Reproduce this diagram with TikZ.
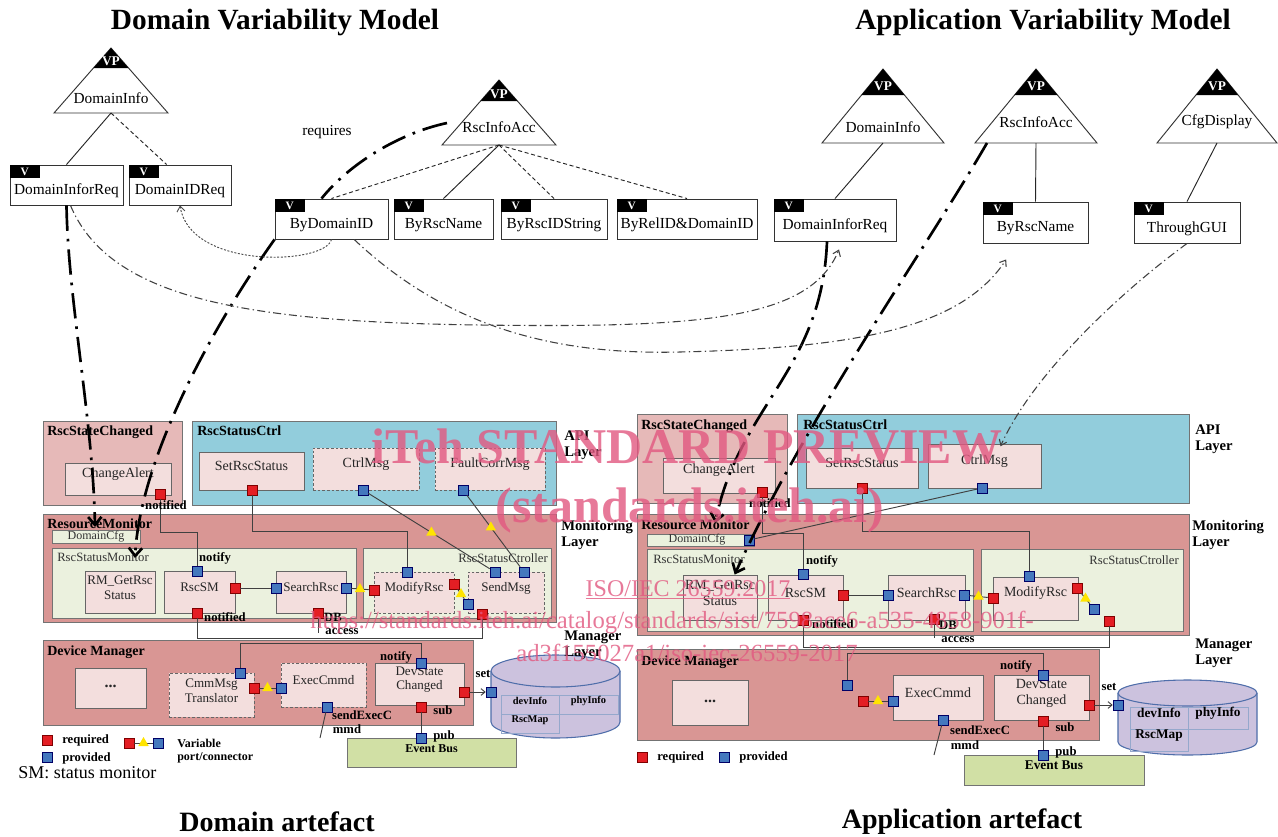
\documentclass[tikz,border=0pt]{standalone}
\usepackage{fontspec}
\setmainfont{Liberation Serif}
\usetikzlibrary{fit,shapes.geometric,arrows.meta,calc}
\definecolor{outpink}{RGB}{230,185,184}
\definecolor{inpink}{RGB}{243,222,221}
\definecolor{apiblue}{RGB}{146,205,220}
\definecolor{monred}{RGB}{217,150,148}
\definecolor{cream}{RGB}{235,241,222}
\definecolor{busgreen}{RGB}{209,224,165}
\definecolor{dblav}{RGB}{204,194,222}
\definecolor{dbline}{RGB}{79,110,170}
\definecolor{portred}{RGB}{228,30,36}
\definecolor{portblue}{RGB}{68,120,190}
\definecolor{tricol}{RGB}{255,228,0}
\definecolor{wmcol}{RGB}{226,88,128}
\tikzset{
 every node/.style={inner sep=0pt},
 title/.style={font=\bfseries\fontsize{22}{25}\selectfont},
 foot/.style={font=\bfseries\fontsize{21}{24}\selectfont},
 tlabel/.style={font=\fontsize{11.5}{13}\selectfont},
 vpl/.style={text=white, font=\bfseries\fontsize{10}{11}\selectfont},
 vframe/.style={draw=black!80, line width=0.7pt, fill=white},
 vtab/.style={fill=black, minimum width=22.5pt, minimum height=10pt, text=white, font=\bfseries\fontsize{8.5}{9}\selectfont, anchor=north west},
 tedge/.style={line width=0.7pt, black!85},
 dedge/.style={tedge, dash pattern=on 3pt off 2pt},
 obox/.style={draw=black!55, line width=0.6pt},
 ib/.style={draw=black!60, fill=inpink, line width=0.6pt, align=center, text=black!85, font=\fontsize{9.8}{11}\selectfont},
 ibd/.style={ib, dash pattern=on 2pt off 1.5pt},
 big/.style={font=\fontsize{10.5}{12}\selectfont},
 btitle/.style={font=\bfseries\fontsize{10.5}{12}\selectfont, anchor=north west},
 ntitle/.style={font=\fontsize{9.5}{11}\selectfont, anchor=north west, text=black!80},
 fsn/.style={font=\fontsize{9}{10}\selectfont, text=black!80},
 lb/.style={font=\bfseries\fontsize{9.5}{10.5}\selectfont},
 layer/.style={font=\bfseries\fontsize{11}{12}\selectfont, align=left, anchor=north west},
 port/.style={minimum size=7.5pt, line width=0.4pt},
 rp/.style={port, fill=portred, draw=red!50!black},
 bp/.style={port, fill=portblue, draw=blue!40!black},
 ytri/.style={regular polygon, regular polygon sides=3, minimum size=9pt, fill=tricol},
 wire/.style={line width=0.7pt, black!75},
 thickdd/.style={line width=2pt, black, dash pattern=on 19pt off 6pt on 2pt off 6pt},
 thindd/.style={line width=0.8pt, black!75, dash pattern=on 6pt off 2.5pt on 1pt off 2.5pt},
 dotc/.style={line width=0.7pt, black!70, dash pattern=on 1.5pt off 1.2pt},
 bigtip/.style={-{Straight Barb[length=6pt,width=10pt]}},
 smalltip/.style={-{Straight Barb[length=4pt,width=6pt]}},
 wmk/.style={text=wmcol, text opacity=0.8},
 cell/.style={draw=dbline!60, line width=0.5pt, font=\bfseries\fontsize{7.8}{8}\selectfont},
 acell/.style={cell, font=\bfseries\fontsize{10}{11}\selectfont},
}
\newcommand{\vptri}[8]{%
 \pgfmathsetmacro{\vpcw}{#5*(#6-#3)/(#4-#3)}%
 \draw[vframe] (#2,#3) -- ({#2+#5},#4) -- ({#2-#5},#4) -- cycle;
 \fill (#2,#3) -- ({#2+\vpcw},#6) -- ({#2-\vpcw},#6) -- cycle;
 \node[vpl] (#1-vp) at (#2,{(#3+2*#6)/3}) {VP};
 \node[tlabel] (#1) at (#2,#8) {#7};
 \coordinate (#1-b) at (#2,#4);
}
\newcommand{\vbx}[6]{%
 \node[vframe, fit={(#2,#3) (#4,#5)}] (#1) {};
 \node[vtab] (#1-v) at (#1.north west) {V};
 \node[tlabel] (#1-t) at ($(#1.center)+(0,6)$) {#6};
}
\begin{document}
\begin{tikzpicture}[x=0.75pt,y=-0.75pt]
\useasboundingbox (0,0) rectangle (1278,836);
\fill[white] (0,0) rectangle (1278,836);

% ---------- titles ----------
\node[title] (t1) at (275,22) {Domain Variability Model};
\node[title] (t2) at (1043,22) {Application Variability Model};
\node[foot] (f1) at (277,822) {Domain artefact};
\node[foot] (f2) at (962,822) {Application artefact};

% ---------- variability models ----------
\vptri{dInfo}{111}{48}{113}{57}{68}{DomainInfo}{98}
\vptri{dAcc}{499}{80}{145}{57}{101}{RscInfoAcc}{127}
\vptri{aInfo}{883}{69}{143}{61}{95}{DomainInfo}{127}
\vptri{aAcc}{1036}{69}{143}{61}{95}{RscInfoAcc}{122}
\vptri{aCfgD}{1217}{69}{143}{60}{95}{CfgDisplay}{122}

\vbx{dIReq}{10}{165}{123}{205}{DomainInforReq}
\vbx{dIDReq}{129}{165}{231}{205}{DomainIDReq}
\vbx{dBDI}{275}{199}{388}{239}{ByDomainID}
\vbx{dBRN}{394}{199}{493}{239}{ByRscName}
\vbx{dBRS}{501}{199}{607}{239}{ByRscIDString}
\vbx{dBRD}{617}{199}{757}{239}{ByRelID\&DomainID}
\vbx{aReq}{774}{199}{896}{241}{DomainInforReq}
\vbx{aRsc}{983}{202}{1088}{243}{ByRscName}
\vbx{aGUI}{1134}{202}{1240}{243}{ThroughGUI}

\draw[tedge] (dInfo-b) -- (dIReq.north);
\draw[dedge] (dInfo-b) -- ([xshift=-10pt]dIDReq.north);
\draw[dedge] (dAcc-b) -- (dBDI.north);
\draw[tedge] (dAcc-b) -- (dBRN.north);
\draw[dedge] (dAcc-b) -- (dBRS.north);
\draw[dedge] (dAcc-b) -- (dBRD.north);
\draw[tedge] (aInfo-b) -- (aReq.north);
\draw[tedge] (aAcc-b) -- (aRsc.north);
\draw[tedge] (aCfgD-b) -- (aGUI.north);
\node[tlabel] (req) at (327,132) {requires};

% ---------- domain artefact ----------
\node[obox, fill=outpink, fit={(43,421) (182,505)}] (dRSC) {};
\node[btitle] (dRSC-t) at (47,426) {RscStateChanged};
\node[ib, big, fit={(65,463) (171,495)}] (dCA) {ChangeAlert};
\node[obox, fill=apiblue, fit={(192,421) (556,505)}] (dAPI) {};
\node[btitle] (dAPI-t) at (197,426) {RscStatusCtrl};
\node[ib, big, fit={(199,452) (304,490)}] (dSet) {SetRscStatus};
\node[ibd, big, fit={(313,448) (419,490)}] (dCtrl) {CtrlMsg};
\node[ibd, big, fit={(435,448) (545,490)}] (dFault) {FaultCorrMsg};

\node[obox, fill=monred, fit={(43,514) (556,622)}] (dRM) {};
\node[btitle] (dRM-t) at (47,519) {ResourceMonitor};
\node[obox, fill=cream, fit={(52,530) (140,543)}] (dCfg) {};
\node[fsn] (dCfg-t) at (dCfg) {DomainCfg};
\node[obox, fill=cream, fit={(52,548) (356,618)}] (dRSM) {};
\node[ntitle] (dRSM-t) at (57,553) {RscStatusMonitor};
\node[ib, fit={(85,571) (155,613)}] (dGet) {RM\_GetRsc\\Status};
\node[ib, fit={(164,571) (235,613)}] (dSM) {RscSM};
\node[ib, fit={(276,571) (346,613)}] (dSearch) {SearchRsc};
\node[obox, fill=cream, fit={(363,548) (551,618)}] (dRSCt) {};
\node[ntitle, anchor=north east] (dRSCt-t) at (548,553) {RscStatusCtroller};
\node[ibd, fit={(374,572) (454,613)}] (dMod) {ModifyRsc};
\node[ibd, fit={(468,572) (544,613)}] (dSend) {SendMsg};

\node[obox, fill=monred, fit={(43,640) (473,725)}] (dDM) {};
\node[btitle] (dDM-t) at (47,646) {Device Manager};
\node[ib, fit={(75,668) (146,708)}, font=\bfseries\fontsize{12}{13}\selectfont] (dDots) {...};
\node[ibd, fit={(169,673) (254,717)}] (dCmm) {CmmMsg\\Translator};
\node[ibd, fit={(281,663) (366,707)}] (dExec) {ExecCmmd};
\node[ib, fit={(375,663) (464,705)}] (dDev) {DevState\\Changed};
\node[obox, fill=busgreen, fit={(347,738) (516,767)}, font=\bfseries\fontsize{9}{10}\selectfont] (dBus) {Event Bus};

% database (domain)
\fill[dblav] (491,671) -- (491,722) arc[start angle=180,end angle=360,x radius=48.375pt,y radius=12pt] -- (620,671) -- cycle;
\draw[dbline, line width=0.8pt] (491,671) -- (491,722) arc[start angle=180,end angle=360,x radius=48.375pt,y radius=12pt] -- (620,671);
\draw[dbline, line width=0.8pt, fill=dblav] (555.5,671) ellipse [x radius=48.375pt, y radius=12pt];
\node[cell, fit={(501,695) (559,714)}] (dc1) {devInfo};
\node[cell, fit={(559,695) (618,714)}] (dc2) {phyInfo};
\node[cell, fit={(501,714) (559,733)}] (dc3) {RscMap};

% ports (domain)
\node[rp] (pCA) at (160,494) {};
\node[rp] (pSet) at (252,490) {};
\node[bp] (pCtrl) at (363,490) {};
\node[bp] (pFault) at (463,490) {};
\node[bp] (pSMt) at (197,571) {};
\node[rp] (pSMr) at (235,588) {};
\node[bp] (pSRl) at (276,588) {};
\node[bp] (pSRr) at (346,588) {};
\node[rp] (pSMb) at (197,613) {};
\node[rp] (pSRb) at (318,613) {};
\node[rp] (pModl) at (374,590) {};
\node[bp] (pModt) at (407,572) {};
\node[rp] (pModr) at (454,584) {};
\node[bp] (pSendl) at (468,604) {};
\node[bp] (pSendt1) at (495,572) {};
\node[bp] (pSendt2) at (524,572) {};
\node[rp] (pSendb) at (482,614) {};
\node[bp] (pCmmt) at (240,673) {};
\node[rp] (pCmmr) at (254,688) {};
\node[bp] (pExecl) at (281,688) {};
\node[bp] (pExecb) at (327,707) {};
\node[bp] (pDevt) at (421,663) {};
\node[rp] (pDevb) at (421,707) {};
\node[rp] (pDevr) at (464,692) {};
\node[bp] (pDB) at (491,692) {};
\node[bp] (pBus) at (421,738) {};
\coordinate (dbA) at (318,633);
\coordinate (seA) at (320,738);

% wires (domain)
\draw[wire] (pCA) -- ++(0,38) -| (pSMt);
\draw[wire] (pSet) -- ++(0,41) -| (pModt);
\draw[wire] (pCtrl) -- node[ytri, pos=0.52] (y1) {} (pSendt1);
\draw[wire] (pFault) -- node[ytri, pos=0.45] (y2) {} (pSendt2);
\draw[wire] (pSMr) -- (pSRl);
\draw[wire] (pSRr) -- node[ytri] (y3) {} (pModl);
\draw[wire] (pModr) -- node[ytri] (y4) {} (pSendl);
\draw[wire] (pSMb) -- ++(0,25) -| (pSendb);
\draw[wire] (pSRb) -- (dbA);
\draw[wire] (pCmmt) -- ++(0,-30) -| (pDevt);
\draw[wire] (pCmmr) -- node[ytri] (y5) {} (pExecl);
\draw[wire] (pExecb) -- (seA);
\draw[wire, -{Straight Barb[length=3pt,width=5pt]}] (pDevr) -- (pDB);
\draw[wire] (pDevb) -- (pBus);

% labels (domain)
\node[lb] (l1) at (166,505) {notified};
\node[lb] (l2) at (215,558) {notify};
\node[lb] (l3) at (225,617) {notified};
\node[lb] (l4) at (333,617) {DB};
\node[lb] (l5) at (342,632) {access};
\node[lb] (l6) at (396,657) {notify};
\node[lb] (l7) at (483,674) {set};
\node[lb] (l8) at (443,710) {sub};
\node[lb] (l9) at (444,736) {pub};
\node[lb] (l10) at (362,715) {sendExecC};
\node[lb] (l11) at (347,729) {mmd};
\node[layer] (dL1) at (564,431) {API\\Layer};
\node[layer] (dL2) at (561,520) {Monitoring\\Layer};
\node[layer] (dL3) at (564,631) {Manager\\Layer};

% legend (domain)
\node[rp] (lgR) at (47,740) {};
\node[lb, anchor=west] (lgRt) at (62,740) {required};
\node[bp] (lgB) at (47,757) {};
\node[lb, anchor=west] (lgBt) at (62,758) {provided};
\node[rp] (lgV1) at (129,743) {};
\node[bp] (lgV2) at (158,743) {};
\draw[wire] (lgV1) -- node[ytri] (y6) {} (lgV2);
\node[lb, anchor=west, align=left, font=\bfseries\fontsize{9}{10}\selectfont] (lgVt) at (177,751) {Variable\\port/connector};
\node[anchor=west, font=\fontsize{13.5}{15}\selectfont] (lgSM) at (18,773) {SM: status monitor};

% ---------- application artefact ----------
\node[obox, fill=outpink, fit={(637,414) (787,503)}] (aRSC) {};
\node[btitle] (aRSC-t) at (641,420) {RscStateChanged};
\node[ib, big, fit={(663,458) (775,493)}] (aCA) {ChangeAlert};
\node[obox, fill=apiblue, fit={(797,414) (1189,503)}] (aAPI) {};
\node[btitle] (aAPI-t) at (803,420) {RscStatusCtrl};
\node[ib, big, fit={(806,448) (918,488)}] (aSet) {SetRscStatus};
\node[ib, big, fit={(928,444) (1041,488)}] (aCtrl) {CtrlMsg};

\node[obox, fill=monred, fit={(637,514) (1189,635)}] (aRM) {};
\node[btitle] (aRM-t) at (641,520) {Resource Monitor};
\node[obox, fill=cream, fit={(647,534) (754,546)}] (aDCfg) {};
\node[fsn] (aDCfg-t) at (697,540) {DomainCfg};
\node[obox, fill=cream, fit={(647,549) (973,631)}] (aRSM) {};
\node[ntitle] (aRSM-t) at (653,555) {RscStatusMonitor};
\node[ib, big, fit={(683,575) (757,620)}] (aGet) {RM\_GetRsc\\Status};
\node[ib, big, fit={(768,575) (843,620)}] (aSM) {RscSM};
\node[ib, big, fit={(888,575) (965,620)}] (aSearch) {SearchRsc};
\node[obox, fill=cream, fit={(981,549) (1183,631)}] (aRSCt) {};
\node[ntitle, anchor=north east] (aRSCt-t) at (1179,555) {RscStatusCtroller};
\node[ib, big, fit={(993,577) (1078,620)}] (aMod) {ModifyRsc};

\node[obox, fill=monred, fit={(637,649) (1099,740)}] (aDM) {};
\node[btitle] (aDM-t) at (641,656) {Device Manager};
\node[ib, fit={(672,680) (748,725)}, font=\bfseries\fontsize{12}{13}\selectfont] (aDots) {...};
\node[ib, big, fit={(893,675) (983,720)}] (aExec) {ExecCmmd};
\node[ib, big, fit={(994,675) (1089,720)}] (aDev) {DevState\\Changed};
\node[obox, fill=busgreen, fit={(964,755) (1144,785)}, font=\bfseries\fontsize{10}{11}\selectfont] (aBus) {Event Bus};

% database (application)
\fill[dblav] (1118,693) -- (1118,742) arc[start angle=180,end angle=360,x radius=52.125pt,y radius=9.75pt] -- (1257,693) -- cycle;
\draw[dbline, line width=0.8pt] (1118,693) -- (1118,742) arc[start angle=180,end angle=360,x radius=52.125pt,y radius=9.75pt] -- (1257,693);
\draw[dbline, line width=0.8pt, fill=dblav] (1187.5,693) ellipse [x radius=52.125pt, y radius=9.75pt];
\node[acell, fit={(1130,707) (1188,729)}] (ac1) {devInfo};
\node[acell, fit={(1188,707) (1248,729)}] (ac2) {phyInfo};
\node[acell, fit={(1130,729) (1188,751)}] (ac3) {RscMap};

% ports (application)
\node[rp] (paCA) at (762,492) {};
\node[rp] (paSet) at (862,488) {};
\node[bp] (paCtrl) at (982,488) {};
\node[bp] (paCfg) at (749,540) {};
\node[bp] (paSMt) at (803,574) {};
\node[rp] (paSMr) at (843,595) {};
\node[bp] (paSRl) at (888,595) {};
\node[bp] (paSRr) at (964,595) {};
\node[rp] (paSMb) at (803,620) {};
\node[rp] (paSRb) at (934,619) {};
\node[rp] (paModl) at (993,598) {};
\node[bp] (paModt) at (1029,576) {};
\node[rp] (paModr) at (1077,588) {};
\node[bp] (paX) at (1094,609) {};
\node[rp] (paY) at (1109,621) {};
\node[bp] (paLone) at (847,685) {};
\node[rp] (paRed) at (863,701) {};
\node[bp] (paExecl) at (893,701) {};
\node[bp] (paExecb) at (943,720) {};
\node[bp] (paDevt) at (1043,675) {};
\node[rp] (paDevb) at (1043,721) {};
\node[rp] (paDevr) at (1089,705) {};
\node[bp] (paDB) at (1118,705) {};
\node[bp] (paBus) at (1043,755) {};
\coordinate (adbA) at (934,638);
\coordinate (aseA) at (934,755);

% wires (application)
\draw[wire] (paCA) -- ++(0,41) -| (paSMt);
\draw[wire] (paSet) -- ++(0,43) -| (paModt);
\draw[wire] (paCtrl) -- (paCfg);
\draw[wire] (paSMr) -- (paSRl);
\draw[wire] (paSRr) -- node[ytri] (y7) {} (paModl);
\draw[wire] (paModr) -- node[ytri] (y8) {} (paX);
\draw[wire] (paSMb) -- ++(0,27) -| (paY);
\draw[wire] (paSRb) -- (adbA);
\draw[wire] (paLone) -- ++(0,-32) -| (paDevt);
\draw[wire] (paRed) -- node[ytri] (y9) {} (paExecl);
\draw[wire] (paExecb) -- (aseA);
\draw[wire, -{Straight Barb[length=3pt,width=5pt]}] (paDevr) -- (paDB);
\draw[wire] (paDevb) -- (paBus);

% labels (application)
\node[lb] (m1) at (770,503) {notified};
\node[lb] (m2) at (822,561) {notify};
\node[lb] (m3) at (833,624) {notified};
\node[lb] (m4) at (948,625) {DB};
\node[lb] (m5) at (958,640) {access};
\node[lb] (m6) at (1016,666) {notify};
\node[lb] (m7) at (1109,687) {set};
\node[lb] (m8) at (1065,727) {sub};
\node[lb] (m9) at (1066,752) {pub};
\node[lb] (m10) at (980,730) {sendExecC};
\node[lb] (m11) at (965,745) {mmd};
\node[layer] (aL1) at (1195,425) {API\\Layer};
\node[layer] (aL2) at (1192,520) {Monitoring\\Layer};
\node[layer] (aL3) at (1195,639) {Manager\\Layer};
\node[rp] (alR) at (642,757) {};
\node[lb, anchor=west] (alRt) at (657,757) {required};
\node[bp] (alB) at (724,757) {};
\node[lb, anchor=west] (alBt) at (739,757) {provided};

% ---------- traceability connectors ----------
\coordinate (dAccL) at (447,123);
\coordinate (d1e) at (95,527);
\coordinate (d2e) at (135,558);
\coordinate (aAccL) at (987,143);
\coordinate (a1e) at (715,523);
\draw[thickdd] (dAccL) .. controls (400,133) and (350,163) .. ([xshift=-7.5pt]dBDI.north);
\draw[thickdd, bigtip] (dIReq.south) .. controls (68,300) and (93,420) .. (d1e);
\draw[thickdd, bigtip] (dBDI.south west) .. controls (210,330) and (140,460) .. (d2e);
\draw[thickdd, bigtip] ([xshift=-6pt]aReq.south) .. controls (822,370) and (740,405) .. (a1e);
\draw[thickdd, bigtip] (aAccL) .. controls (925,250) and (805,420) .. ([xshift=11pt]aGet.north);
\draw[thindd, smalltip] ([xshift=3pt]dIReq.south) .. controls (110,300) and (250,322) .. (480,325) .. controls (700,328) and (810,320) .. ([xshift=3pt,yshift=-6pt]aReq.south);
\draw[thindd, smalltip] ([xshift=17pt]dBDI.south) .. controls (450,330) and (560,355) .. (680,352) .. controls (850,348) and (960,330) .. ([xshift=-22pt,yshift=-12pt]aRsc.south);
\draw[thindd, smalltip] (aGUI.south) .. controls (1110,300) and (1030,380) .. ([xshift=12pt,yshift=-2pt]aCtrl.north);
\draw[dotc, smalltip] (dBDI.south) .. controls (325,265) and (190,270) .. (dIDReq.south);

% ---------- watermark ----------
\node[wmk, font=\bfseries\fontsize{37.5}{40}\selectfont] (wm1) at (687,447) {iTeh STANDARD PREVIEW};
\node[wmk, font=\bfseries\fontsize{37.5}{40}\selectfont] (wm2) at (690,510) {(standards.iteh.ai)};
\node[wmk, font=\fontsize{18}{20}\selectfont] (wm3) at (688,590) {\underline{ISO/IEC 26559:2017}};
\node[wmk, font=\fontsize{18.5}{20}\selectfont] (wm4) at (672,622) {https://standards.iteh.ai/catalog/standards/sist/7598ace6-a535-4858-901f-};
\node[wmk, font=\fontsize{18.5}{20}\selectfont] (wm5) at (687,653) {ad3f155027a1/iso-iec-26559-2017};
\end{tikzpicture}
\end{document}
